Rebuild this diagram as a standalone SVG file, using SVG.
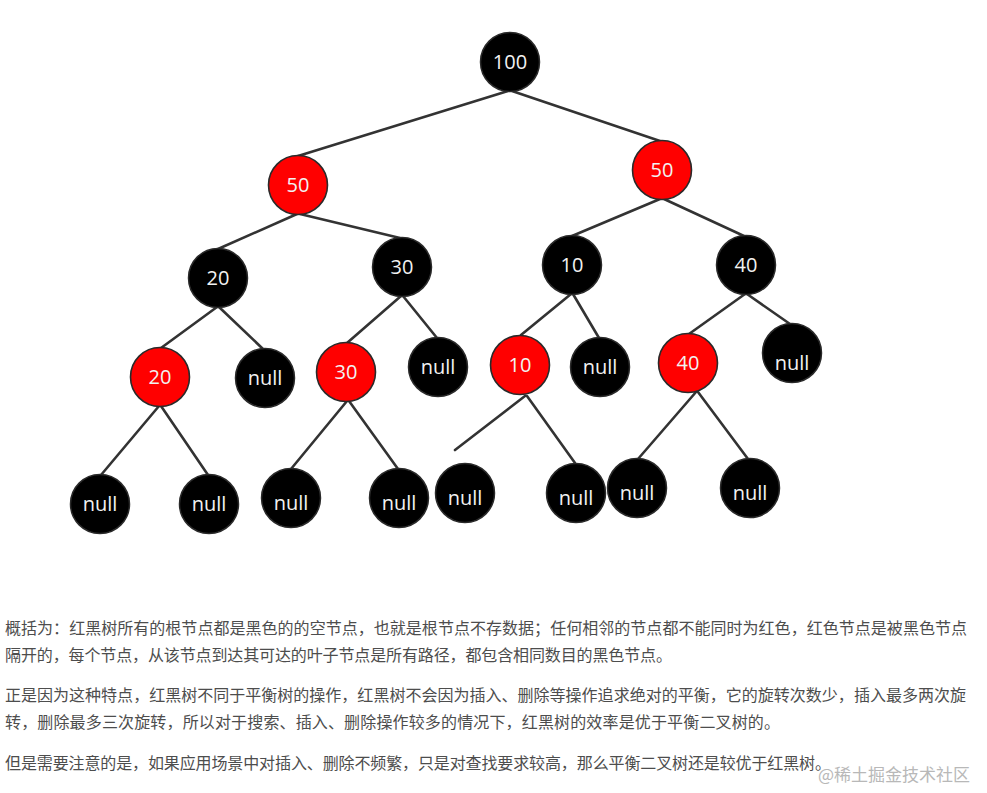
<svg xmlns="http://www.w3.org/2000/svg" width="987" height="793" viewBox="0 0 987 793">
<style>
.edge{stroke:#333;stroke-width:2.6;stroke-linecap:round;fill:none}
.b{fill:#000;stroke:#2a2a2a;stroke-width:1.5}
.r{fill:#f00;stroke:#2a2a2a;stroke-width:1.6}
.lbl{font-family:"Open Sans","Noto Sans",sans-serif;font-size:20px;fill:#f2f2f2;text-anchor:middle}
.para{font-family:"Noto Sans CJK SC","Noto Sans",sans-serif;font-size:16px;fill:#4d4d4d}
.wm{font-family:"Noto Sans CJK SC","Noto Sans",sans-serif;font-size:17px;fill:#b8b8b8}
</style>
<rect width="987" height="793" fill="#fff"/>
<g id="connectors">
<line class="edge" x1="508" y1="91" x2="298" y2="156"/>
<line class="edge" x1="512" y1="91" x2="660" y2="141"/>
<line class="edge" x1="297" y1="214" x2="218" y2="249"/>
<line class="edge" x1="300" y1="214" x2="400" y2="238"/>
<line class="edge" x1="660" y1="199" x2="572" y2="236"/>
<line class="edge" x1="664" y1="199" x2="744" y2="236"/>
<line class="edge" x1="217" y1="307" x2="161" y2="348"/>
<line class="edge" x1="219" y1="307" x2="263" y2="349"/>
<line class="edge" x1="401" y1="296" x2="347" y2="343"/>
<line class="edge" x1="403" y1="296" x2="437" y2="338"/>
<line class="edge" x1="571" y1="294" x2="521" y2="335"/>
<line class="edge" x1="573" y1="294" x2="599" y2="338"/>
<line class="edge" x1="745" y1="294" x2="689" y2="334"/>
<line class="edge" x1="747" y1="294" x2="790" y2="324"/>
<line class="edge" x1="159" y1="406" x2="101" y2="475"/>
<line class="edge" x1="161" y1="406" x2="208" y2="475"/>
<line class="edge" x1="347" y1="401" x2="291" y2="469"/>
<line class="edge" x1="349" y1="401" x2="398" y2="469"/>
<line class="edge" x1="525" y1="396" x2="455" y2="450"/>
<line class="edge" x1="527" y1="396" x2="575" y2="463"/>
<line class="edge" x1="696" y1="392" x2="638" y2="459"/>
<line class="edge" x1="698" y1="392" x2="748" y2="459"/>
</g>
<g id="n100"><circle class="b" cx="510" cy="62" r="29.5"/><text class="lbl" x="510" y="69">100</text></g>
<g id="n50L"><circle class="r" cx="298" cy="185" r="29.5"/><text class="lbl" x="298" y="192">50</text></g>
<g id="n50R"><circle class="r" cx="662" cy="170" r="29.5"/><text class="lbl" x="662" y="177">50</text></g>
<g id="n20"><circle class="b" cx="218" cy="278" r="29.5"/><text class="lbl" x="218" y="285">20</text></g>
<g id="n30"><circle class="b" cx="402" cy="267" r="29.5"/><text class="lbl" x="402" y="274">30</text></g>
<g id="n10"><circle class="b" cx="572" cy="265" r="29.5"/><text class="lbl" x="572" y="272">10</text></g>
<g id="n40"><circle class="b" cx="746" cy="265" r="29.5"/><text class="lbl" x="746" y="272">40</text></g>
<g id="r20"><circle class="r" cx="160" cy="377" r="29.5"/><text class="lbl" x="160" y="384">20</text></g>
<g id="null1"><circle class="b" cx="265" cy="378" r="29.5"/><text class="lbl" x="265" y="385">null</text></g>
<g id="r30"><circle class="r" cx="346" cy="372" r="29.5"/><text class="lbl" x="346" y="379">30</text></g>
<g id="null2"><circle class="b" cx="438" cy="367" r="29.5"/><text class="lbl" x="438" y="374">null</text></g>
<g id="r10"><circle class="r" cx="520" cy="365" r="29.5"/><text class="lbl" x="520" y="372">10</text></g>
<g id="null3"><circle class="b" cx="600" cy="367" r="29.5"/><text class="lbl" x="600" y="374">null</text></g>
<g id="r40"><circle class="r" cx="688" cy="363" r="29.5"/><text class="lbl" x="688" y="370">40</text></g>
<g id="null4"><circle class="b" cx="792" cy="353" r="29.5"/><text class="lbl" x="792" y="370">null</text></g>
<g id="null5"><circle class="b" cx="100" cy="504" r="29.5"/><text class="lbl" x="100" y="511">null</text></g>
<g id="null6"><circle class="b" cx="209" cy="504" r="29.5"/><text class="lbl" x="209" y="511">null</text></g>
<g id="null7"><circle class="b" cx="291" cy="498" r="29.5"/><text class="lbl" x="291" y="510">null</text></g>
<g id="null8"><circle class="b" cx="399" cy="498" r="29.5"/><text class="lbl" x="399" y="510">null</text></g>
<g id="null9"><circle class="b" cx="465" cy="493" r="29.5"/><text class="lbl" x="465" y="505">null</text></g>
<g id="null10"><circle class="b" cx="576" cy="493" r="29.5"/><text class="lbl" x="576" y="505">null</text></g>
<g id="null11"><circle class="b" cx="637" cy="488" r="29.5"/><text class="lbl" x="637" y="500">null</text></g>
<g id="null12"><circle class="b" cx="750" cy="488" r="29.5"/><text class="lbl" x="750" y="500">null</text></g>
<g id="text">
<text class="para" x="5" y="634" textLength="962" lengthAdjust="spacing">概括为：红黑树所有的根节点都是黑色的的空节点，也就是根节点不存数据；任何相邻的节点都不能同时为红色，红色节点是被黑色节点</text>
<text class="para" x="5" y="661" textLength="667" lengthAdjust="spacing">隔开的，每个节点，从该节点到达其可达的叶子节点是所有路径，都包含相同数目的黑色节点。</text>
<text class="para" x="5" y="701" textLength="961" lengthAdjust="spacing">正是因为这种特点，红黑树不同于平衡树的操作，红黑树不会因为插入、删除等操作追求绝对的平衡，它的旋转次数少，插入最多两次旋</text>
<text class="para" x="5" y="728" textLength="775" lengthAdjust="spacing">转，删除最多三次旋转，所以对于搜索、插入、删除操作较多的情况下，红黑树的效率是优于平衡二叉树的。</text>
<text class="para" x="5" y="769" textLength="826" lengthAdjust="spacing">但是需要注意的是，如果应用场景中对插入、删除不频繁，只是对查找要求较高，那么平衡二叉树还是较优于红黑树。</text>
<text class="wm" x="818" y="781">@稀土掘金技术社区</text>
</g>
</svg>
